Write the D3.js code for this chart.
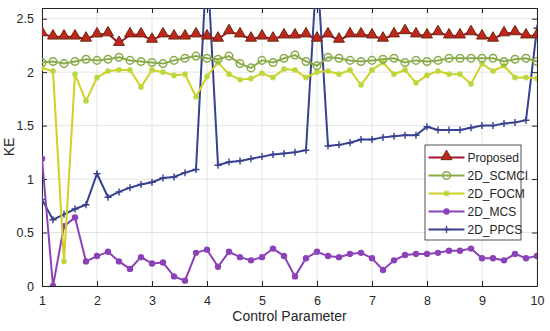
<!DOCTYPE html>
<html>
<head>
<meta charset="utf-8">
<script src="https://cdn.jsdelivr.net/npm/d3@7"></script>
<style>
    body { margin: 0; background: #fff; }
    svg { font-family: "Liberation Sans", Arial, sans-serif; }
</style>
</head>
<body>
<svg id="chart" width="550" height="331"></svg>
<script>
var xValues = [ 1, 1.2, 1.4, 1.6, 1.8, 2, 2.2, 2.4, 2.6, 2.8, 3, 3.2, 3.4, 3.6, 3.8,
    4, 4.2, 4.4, 4.6, 4.8, 5, 5.2, 5.4, 5.6, 5.8, 6, 6.2, 6.4, 6.6, 6.8, 7,
    7.2, 7.4, 7.6, 7.8, 8, 8.2, 8.4, 8.6, 8.8, 9, 9.2, 9.4, 9.6, 9.8, 10 ];

var proposed = [ 2.36, 2.33, 2.33, 2.33, 2.31, 2.35, 2.36, 2.27, 2.35, 2.35, 2.30, 2.35, 2.33, 2.33, 2.35,
    2.33, 2.31, 2.38, 2.35, 2.31, 2.33, 2.31, 2.34, 2.34, 2.35, 2.31, 2.35, 2.30, 2.35, 2.35, 2.34,
    2.31, 2.35, 2.38, 2.35, 2.34, 2.37, 2.34, 2.34, 2.37, 2.33, 2.31, 2.36, 2.37, 2.34, 2.34 ];

var scmci = [ 2.09, 2.10, 2.08, 2.10, 2.12, 2.11, 2.12, 2.14, 2.11, 2.10, 2.09, 2.08, 2.11, 2.13, 2.15,
    2.13, 2.12, 2.15, 2.08, 2.04, 2.11, 2.09, 2.13, 2.16, 2.10, 2.06, 2.14, 2.13, 2.11, 2.10, 2.11,
    2.12, 2.13, 2.09, 2.11, 2.10, 2.11, 2.13, 2.13, 2.13, 2.13, 2.13, 2.10, 2.12, 2.13, 2.10 ];

var focm = [ 2.04, 2.01, 0.23, 1.98, 1.73, 1.95, 2.01, 2.02, 2.02, 1.86, 2.02, 2.00, 1.97, 1.98, 1.77,
    1.96, 2.09, 1.98, 1.93, 1.94, 1.99, 1.95, 2.03, 2.02, 1.95, 2.00, 2.01, 1.98, 2.02, 1.88, 2.02,
    2.09, 1.98, 2.02, 1.90, 1.97, 2.01, 1.98, 1.98, 1.89, 2.08, 2.01, 2.06, 1.95, 1.95, 1.94 ];

var mcs = [ 1.19, 0.00, 0.56, 0.64, 0.23, 0.28, 0.32, 0.23, 0.16, 0.27, 0.21, 0.22, 0.09, 0.05, 0.31,
    0.34, 0.18, 0.32, 0.27, 0.24, 0.27, 0.35, 0.28, 0.09, 0.26, 0.32, 0.28, 0.27, 0.30, 0.31, 0.26,
    0.15, 0.24, 0.29, 0.30, 0.30, 0.31, 0.33, 0.33, 0.35, 0.26, 0.26, 0.24, 0.30, 0.26, 0.28 ];

var ppcs = [ 0.81, 0.62, 0.67, 0.72, 0.76, 1.05, 0.83, 0.88, 0.92, 0.95, 0.97, 1.01, 1.02, 1.06, 1.09,
    3.07, 1.13, 1.16, 1.17, 1.19, 1.21, 1.23, 1.24, 1.25, 1.27, 3.00, 1.31, 1.32, 1.34, 1.37, 1.37,
    1.39, 1.40, 1.41, 1.41, 1.49, 1.46, 1.46, 1.46, 1.48, 1.50, 1.50, 1.52, 1.53, 1.55, 2.41 ];

var xTicks = [ 1, 2, 3, 4, 5, 6, 7, 8, 9, 10 ];
var yTicks = [ 0, 0.5, 1, 1.5, 2, 2.5 ];

var seriesNames = [ "Proposed", "2D_SCMCI", "2D_FOCM", "2D_MCS", "2D_PPCS" ];

(function () {
    var svg = d3.select( "#chart" );
    var margin = { top: 8, right: 13, bottom: 45, left: 42 };
    var width = 550 - margin.left - margin.right;
    var height = 331 - margin.top - margin.bottom;

    var x = d3.scaleLinear().domain( [ 1, 10 ] ).range( [ 0, width ] );
    var y = d3.scaleLinear().domain( [ 0, 2.6 ] ).range( [ height, 0 ] );

    var g = svg.append( "g" )
        .attr( "transform", "translate(" + margin.left + "," + margin.top + ")" );

    g.append( "clipPath" ).attr( "id", "clip" )
        .append( "rect" ).attr( "width", width ).attr( "height", height );

    // grid
    g.selectAll( "line.gx" ).data( xTicks ).enter().append( "line" )
        .attr( "x1", x ).attr( "x2", x ).attr( "y1", 0 ).attr( "y2", height )
        .attr( "stroke", "#e3e3e3" );
    g.selectAll( "line.gy" ).data( yTicks ).enter().append( "line" )
        .attr( "y1", y ).attr( "y2", y ).attr( "x1", 0 ).attr( "x2", width )
        .attr( "stroke", "#e3e3e3" );

    // axes, matlab style: ticks inside, box on
    function styleAxis( sel ) {
        sel.select( ".domain" ).attr( "stroke", "#262626" );
        sel.selectAll( ".tick line" ).attr( "stroke", "#262626" );
        sel.selectAll( ".tick text" ).attr( "fill", "#262626" ).style( "font-size", "12.5px" );
    }

    g.append( "g" ).attr( "transform", "translate(0," + height + ")" )
        .call( d3.axisBottom( x ).tickValues( xTicks ).tickSizeInner( -5 ).tickSizeOuter( 0 ).tickPadding( 10 ) )
        .call( styleAxis );
    g.append( "g" )
        .call( d3.axisLeft( y ).tickValues( yTicks ).tickFormat( d3.format( "" ) ).tickSizeInner( -5 ).tickSizeOuter( 0 ).tickPadding( 8 ) )
        .call( styleAxis );
    g.append( "g" )
        .call( d3.axisTop( x ).tickValues( xTicks ).tickSizeInner( -5 ).tickSizeOuter( 0 ).tickFormat( "" ) )
        .call( styleAxis );
    g.append( "g" ).attr( "transform", "translate(" + width + ",0)" )
        .call( d3.axisRight( y ).tickValues( yTicks ).tickSizeInner( -5 ).tickSizeOuter( 0 ).tickFormat( "" ) )
        .call( styleAxis );

    var series = [
        { name: seriesNames[ 0 ], values: proposed, color: "#a2142f", marker: "tri" },
        { name: seriesNames[ 1 ], values: scmci, color: "#8aab4a", marker: "circle" },
        { name: seriesNames[ 2 ], values: focm, color: "#d2d026", marker: "star" },
        { name: seriesNames[ 3 ], values: mcs, color: "#8b42b8", marker: "dot" },
        { name: seriesNames[ 4 ], values: ppcs, color: "#37418f", marker: "plus" }
    ];

    var line = d3.line()
        .x( function ( d ) { return x( d.x ); } )
        .y( function ( d ) { return y( d.y ); } );

    var plot = g.append( "g" ).attr( "clip-path", "url(#clip)" );

    function drawMarker( sel, s ) {
        if ( s.marker == "tri" ) {
            sel.append( "path" )
                .attr( "d", d3.symbol().type( d3.symbolTriangle ).size( 52 ) )
                .attr( "transform", "translate(0,-1)" )
                .attr( "fill", "#c0261b" ).attr( "stroke", "#6a2a0e" ).attr( "stroke-width", 1 );
        } else if ( s.marker == "circle" ) {
            sel.append( "circle" ).attr( "r", 3.8 )
                .attr( "fill", "none" ).attr( "stroke", s.color ).attr( "stroke-width", 1.5 );
        } else if ( s.marker == "dot" ) {
            sel.append( "circle" ).attr( "r", 3.2 ).attr( "fill", s.color );
        } else if ( s.marker == "star" ) {
            sel.append( "path" )
                .attr( "d", "M-3,0H3M0,-3V3M-2.2,-2.2L2.2,2.2M-2.2,2.2L2.2,-2.2" )
                .attr( "stroke", "#b8d83a" ).attr( "stroke-width", 1.4 );
        } else if ( s.marker == "plus" ) {
            sel.append( "path" )
                .attr( "d", "M-3.5,0H3.5M0,-3.5V3.5" )
                .attr( "stroke", s.color ).attr( "stroke-width", 1.4 );
        }
    }

    // draw from last to first so Proposed is on top
    series.slice().reverse().forEach( function ( s ) {
        var pts = s.values.map( function ( v, i ) { return { x: xValues[ i ], y: v }; } );
        plot.append( "path" ).datum( pts )
            .attr( "d", line )
            .attr( "fill", "none" )
            .attr( "stroke", s.color )
            .attr( "stroke-width", 2 );
        plot.selectAll( null ).data( pts ).enter().append( "g" )
            .attr( "transform", function ( d ) { return "translate(" + x( d.x ) + "," + y( d.y ) + ")"; } )
            .each( function () { drawMarker( d3.select( this ), s ); } );
    });

    // axis labels
    svg.append( "text" )
        .attr( "x", margin.left + width / 2 ).attr( "y", 321 )
        .attr( "text-anchor", "middle" ).attr( "fill", "#262626" )
        .style( "font-size", "14px" ).text( "Control Parameter" );
    svg.append( "text" )
        .attr( "transform", "translate(14," + ( margin.top + height / 2 ) + ") rotate(-90)" )
        .attr( "text-anchor", "middle" ).attr( "fill", "#262626" )
        .style( "font-size", "14px" ).text( "KE" );

    // legend
    var lg = svg.append( "g" ).attr( "transform", "translate(425,145)" );
    lg.append( "rect" ).attr( "width", 96 ).attr( "height", 95 )
        .attr( "fill", "#fff" ).attr( "stroke", "#262626" ).attr( "stroke-width", 0.8 );
    series.forEach( function ( s, i ) {
        var row = lg.append( "g" ).attr( "transform", "translate(0," + ( 12.5 + i * 18 ) + ")" );
        row.append( "line" ).attr( "x1", 3.5 ).attr( "x2", 39.5 )
            .attr( "stroke", s.color ).attr( "stroke-width", 2 );
        drawMarker( row.append( "g" ).attr( "transform", "translate(21.5,0)" ), s );
        row.append( "text" ).attr( "x", 42.5 ).attr( "y", 4.5 )
            .attr( "fill", "#262626" ).style( "font-size", "12px" ).text( s.name );
    });
})();
</script>
</body>
</html>
